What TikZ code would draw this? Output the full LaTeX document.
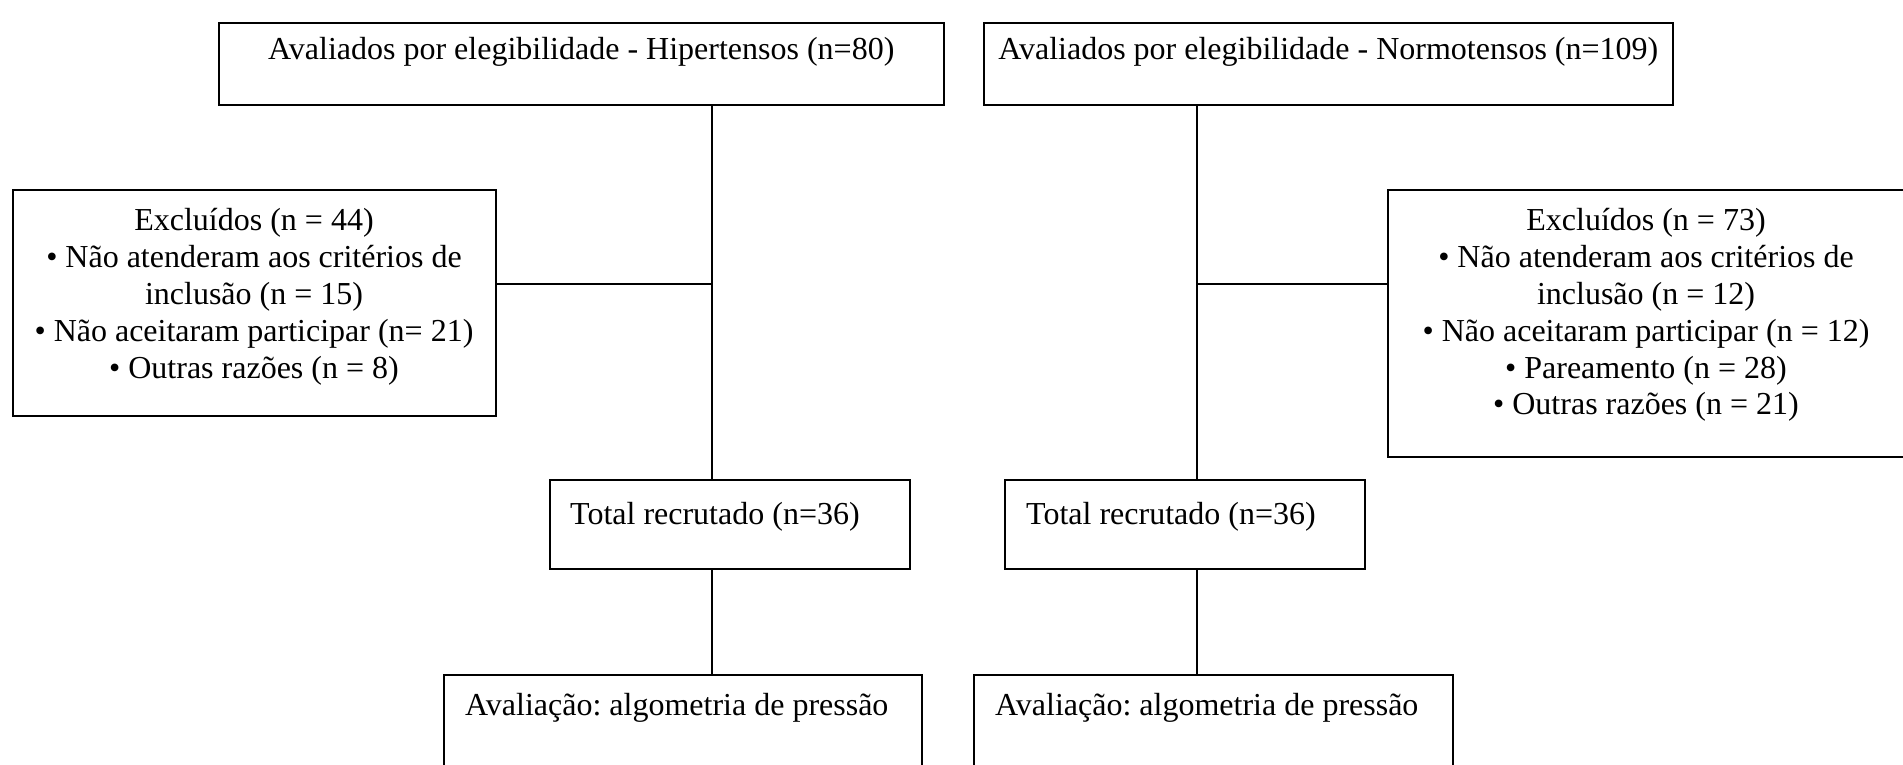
\documentclass[tikz,border=0pt]{standalone}
\usepackage{fontspec}
\setmainfont{Liberation Serif}
\frenchspacing
\begin{document}
\begin{tikzpicture}[x=1pt,y=-1pt,
  box/.style={draw=black, line width=1.6pt, rectangle, inner sep=0pt, anchor=north west, fill=white},
  conn/.style={draw=black, line width=1.5pt},
  txt/.style={inner sep=0pt, font=\frenchspacing\fontsize{32}{36.9}\selectfont},
  mtxt/.style={txt, align=center, anchor=north}]
\useasboundingbox (0,0) rectangle (1903,764);
\clip (0,0) rectangle (1903,764);
% boxes
\node[box, minimum width=725, minimum height=82] (tl) at (218,22) {};
\node[box, minimum width=689, minimum height=82] (tr) at (983,22) {};
\node[box, minimum width=483, minimum height=226] (exl) at (12,189) {};
\node[box, minimum width=540, minimum height=267] (exr) at (1387,189) {};
\node[box, minimum width=360, minimum height=89] (totl) at (549,479) {};
\node[box, minimum width=360, minimum height=89] (totr) at (1004,479) {};
\node[box, minimum width=478, minimum height=120] (avl) at (443,674) {};
\node[box, minimum width=479, minimum height=120] (avr) at (973,674) {};
% texts
\node[txt, anchor=base] (tlt) at (tl.north |- 0,59) {Avaliados por elegibilidade - Hipertensos (n=80)};
\node[txt, anchor=base] (trt) at (tr.north |- 0,59) {Avaliados por elegibilidade - Normotensos (n=109)};
\node[mtxt] (exlt) at (254,208) {Excluídos (n = 44)\\ • Não atenderam aos critérios de\\ inclusão (n = 15)\\ • Não aceitaram participar (n= 21)\\ • Outras razões (n = 8)};
\node[mtxt] (exrt) at (1646,208) {Excluídos (n = 73)\\ • Não atenderam aos critérios de\\ inclusão (n = 12)\\ • Não aceitaram participar (n = 12)\\ • Pareamento (n = 28)\\ • Outras razões (n = 21)};
\node[txt, anchor=base west] (totlt) at (570,524) {Total recrutado (n=36)};
\node[txt, anchor=base west] (totrt) at (1026,524) {Total recrutado (n=36)};
\node[txt, anchor=base west] (avlt) at (465,715) {Avaliação: algometria de pressão};
\node[txt, anchor=base west] (avrt) at (995,715) {Avaliação: algometria de pressão};
% connector guides
\coordinate (lx) at (712,0);
\coordinate (rx) at (1197,0);
\coordinate (hy) at (0,284);
% connectors
\draw[conn] (tl.south -| lx) -- (totl.north -| lx);
\draw[conn] (totl.south -| lx) -- (avl.north -| lx);
\draw[conn] (exl.east |- hy) -- (lx |- hy);
\draw[conn] (tr.south -| rx) -- (totr.north -| rx);
\draw[conn] (totr.south -| rx) -- (avr.north -| rx);
\draw[conn] (exr.west |- hy) -- (rx |- hy);
\end{tikzpicture}
\end{document}
